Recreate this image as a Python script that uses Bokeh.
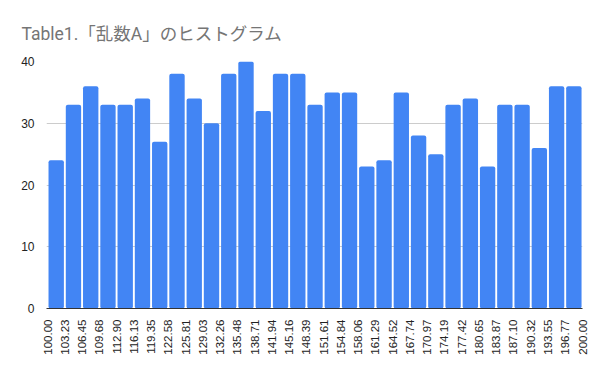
import math
from bokeh.plotting import figure
from bokeh.models import FixedTicker, ColumnDataSource
from bokeh.embed import file_html
from bokeh.resources import INLINE

title_text = "Table1.「乱数A」のヒストグラム"
edge_labels = ["100.00", "103.23", "106.45", "109.68", "112.90", "116.13", "119.35",
               "122.58", "125.81", "129.03", "132.26", "135.48", "138.71", "141.94",
               "145.16", "148.39", "151.61", "154.84", "158.06", "161.29", "164.52",
               "167.74", "170.97", "174.19", "177.42", "180.65", "183.87", "187.10",
               "190.32", "193.55", "196.77", "200.00"]
counts = [24, 33, 36, 33, 33, 34, 27, 38, 34, 30, 38, 40, 32, 38, 38, 33,
          35, 35, 23, 24, 35, 28, 25, 33, 34, 23, 33, 33, 26, 36, 36]
y_ticks = [0, 10, 20, 30, 40]

edges = [float(s) for s in edge_labels]
centers = [(edges[i] + edges[i + 1]) / 2 for i in range(len(counts))]
widths = [(edges[i + 1] - edges[i]) * 0.89 for i in range(len(counts))]
src = ColumnDataSource(dict(x=centers, top=counts, w=widths))

FONT = "Liberation Sans, Arial, Noto Sans CJK JP"

p = figure(width=600, height=371, output_backend="svg", toolbar_location=None,
           x_range=(99.8, 200.0), y_range=(0, 40),
           min_border_left=46, min_border_right=18, min_border_bottom=63,
           min_border_top=61)
p.title.text = title_text
p.title.align = "left"
p.title.text_font = "Roboto, Noto Sans CJK JP"
p.title.text_font_size = "17.5px"
p.title.text_font_style = "normal"
p.title.text_color = "#757575"
p.title.offset = -25
p.title.standoff = 35

p.vbar(x="x", top="top", width="w", bottom=0, source=src,
       fill_color="#4285F4", line_color=None, border_radius=2)

p.outline_line_color = None
p.xgrid.grid_line_color = None
p.ygrid.grid_line_color = "#cccccc"
p.ygrid.grid_line_width = 1

p.yaxis.ticker = FixedTicker(ticks=y_ticks)
p.yaxis.axis_line_color = None
p.yaxis.major_tick_line_color = None
p.yaxis.minor_tick_line_color = None
p.yaxis.major_label_text_font = FONT
p.yaxis.major_label_text_font_size = "12px"
p.yaxis.major_label_text_color = "#222222"
p.yaxis.major_label_standoff = 6

p.xaxis.ticker = FixedTicker(ticks=edges)
p.xaxis.major_label_overrides = {e: s for e, s in zip(edges, edge_labels)}
p.xaxis.major_label_orientation = math.pi / 2
p.xaxis.axis_line_color = "#333333"
p.xaxis.axis_line_width = 1
p.xaxis.major_tick_line_color = None
p.xaxis.minor_tick_line_color = None
p.xaxis.major_label_text_font = FONT
p.xaxis.major_label_text_font_size = "11.5px"
p.xaxis.major_label_text_color = "#222222"
p.xaxis.major_label_standoff = 5

open("out.html", "w").write(file_html(p, INLINE))
